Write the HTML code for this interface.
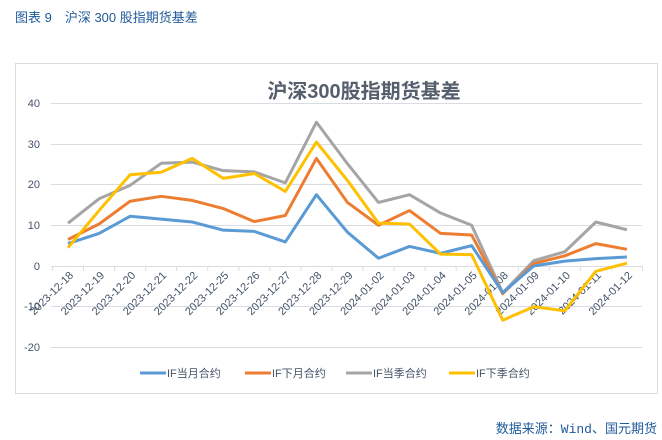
<!DOCTYPE html>
<html><head><meta charset="utf-8"><style>
body{margin:0;width:662px;height:440px;background:#fff;overflow:hidden;font-family:"Liberation Sans","Noto Sans CJK SC",sans-serif}
</style></head><body>
<svg width="662" height="440" xmlns="http://www.w3.org/2000/svg" style="position:absolute;left:0;top:0">
<text x="15" y="22" font-size="13" fill="#1f5a9a" font-family="Liberation Sans,Noto Sans CJK SC,sans-serif">图表 9　沪深 300 股指期货基差</text>
<rect x="15.5" y="63.5" width="642" height="330" fill="#fff" stroke="#d9dde3"/>
<text x="364" y="98" font-size="20" font-weight="bold" fill="#555f6d" text-anchor="middle" font-family="Liberation Sans,Noto Sans CJK SC,sans-serif">沪深300股指期货基差</text>
<g stroke="#d9dde3" stroke-width="1">
<line x1="51" x2="642" y1="103.5" y2="103.5"/><line x1="51" x2="642" y1="144.5" y2="144.5"/>
<line x1="51" x2="642" y1="184.5" y2="184.5"/><line x1="51" x2="642" y1="225.5" y2="225.5"/>
<line x1="51" x2="642" y1="266.5" y2="266.5"/><line x1="51" x2="642" y1="306.5" y2="306.5"/>
<line x1="51" x2="642" y1="347.5" y2="347.5"/>
</g>
<g font-size="11" fill="#44546a" text-anchor="end">
<text x="40" y="107">40</text><text x="40" y="148">30</text><text x="40" y="188">20</text><text x="40" y="229">10</text><text x="40" y="270">0</text><text x="40" y="310">-10</text><text x="40" y="351">-20</text>
</g>
<g id="ticks" stroke="#d9dde3"></g>
<g id="labels" font-size="11" fill="#44546a" text-anchor="end"></g>
<g id="lines" fill="none" stroke-width="3" stroke-linejoin="round"></g>
<g font-size="11" fill="#44546a">
<line x1="140" x2="166" y1="373" y2="373" stroke="#5b9bd5" stroke-width="3"/><text x="167" y="377">IF当月合约</text>
<line x1="245" x2="271" y1="373" y2="373" stroke="#ed7d31" stroke-width="3"/><text x="272" y="377">IF下月合约</text>
<line x1="346" x2="372" y1="373" y2="373" stroke="#a5a5a5" stroke-width="3"/><text x="373" y="377">IF当季合约</text>
<line x1="449" x2="475" y1="373" y2="373" stroke="#ffc000" stroke-width="3"/><text x="476" y="377">IF下季合约</text>
</g>
<text x="657" y="433" font-size="13" fill="#1f5a9a" text-anchor="end" font-family="Liberation Mono,Noto Sans CJK SC,monospace">数据来源：Wind、国元期货</text>
</svg>
<script>
const ns="http://www.w3.org/2000/svg";
const dates=["2023-12-18","2023-12-19","2023-12-20","2023-12-21","2023-12-22","2023-12-25","2023-12-26","2023-12-27","2023-12-28","2023-12-29","2024-01-02","2024-01-03","2024-01-04","2024-01-05","2024-01-08","2024-01-09","2024-01-10","2024-01-11","2024-01-12"];
const X=i=>68+i*31.05, Y=v=>266-v*4.075;
const tk=document.getElementById("ticks"),lb=document.getElementById("labels"),ln=document.getElementById("lines");
for(let i=0;i<=19;i++){const l=document.createElementNS(ns,"line");const x=52.5+i*31.05;l.setAttribute("x1",x);l.setAttribute("x2",x);l.setAttribute("y1",266);l.setAttribute("y2",271);tk.appendChild(l);}
dates.forEach((d,i)=>{const t=document.createElementNS(ns,"text");const x=X(i)+6,y=276;t.setAttribute("x",x);t.setAttribute("y",y);t.setAttribute("transform",`rotate(-45 ${x} ${y})`);t.textContent=d;lb.appendChild(t);});
const S=[["#a5a5a5",[10.5,16.5,19.8,25.2,25.5,23.4,23.1,20.4,35.3,25.1,15.6,17.5,13,10,-6.6,1.3,3.5,10.8,8.9]],
["#ed7d31",[6.5,10.3,15.9,17.1,16.1,14.1,10.9,12.4,26.4,15.6,10,13.6,8,7.6,-6.8,0.6,2.5,5.5,4.1]],
["#5b9bd5",[5.5,8,12.2,11.5,10.8,8.8,8.5,5.9,17.5,8.3,1.9,4.8,3.1,5,-6.5,0,1.2,1.8,2.2]],
["#ffc000",[4.5,13.6,22.4,23,26.4,21.5,22.7,18.3,30.4,21,10.5,10.3,2.9,2.8,-13.3,-10,-11,-1.3,0.7]]];
S.forEach(([c,d])=>{const p=document.createElementNS(ns,"polyline");p.setAttribute("points",d.map((v,i)=>X(i)+","+Y(v)).join(" "));p.setAttribute("stroke",c);ln.appendChild(p);});
</script>
</body></html>
